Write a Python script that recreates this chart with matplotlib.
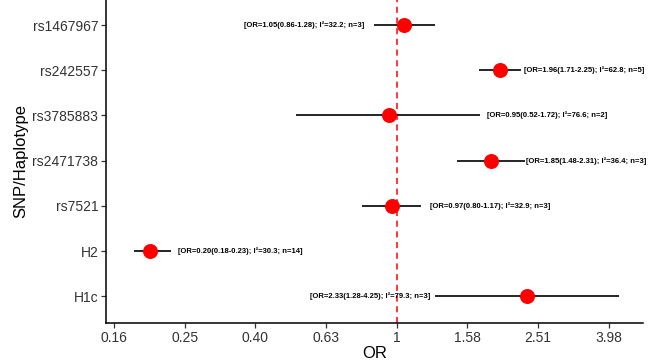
import numpy as np
import matplotlib
matplotlib.use("Agg")
import matplotlib.pyplot as plt
from matplotlib.ticker import FixedLocator, FixedFormatter, NullLocator

# data, top row first
snps = ['rs1467967', 'rs242557', 'rs3785883', 'rs2471738', 'rs7521', 'H2', 'H1c']
odds = [1.05, 1.96, 0.95, 1.85, 0.97, 0.20, 2.33]
ci_low = [0.86, 1.71, 0.52, 1.48, 0.80, 0.18, 1.28]
ci_high = [1.28, 2.25, 1.72, 2.31, 1.17, 0.23, 4.25]
i2 = [32.2, 62.8, 76.6, 36.4, 32.9, 30.3, 79.3]
n_studies = [3, 5, 2, 3, 3, 14, 3]

tick_vals = 10 ** np.arange(-0.8, 0.61, 0.2)
tick_labels = ['0.16', '0.25', '0.40', '0.63', '1', '1.58', '2.51', '3.98']

# which side the text label sits on, and its gap to the CI line (points)
label_side = ['left', 'right', 'right', 'right', 'right', 'right', 'left']
label_gap = [7, 2, 5, 0.7, 6.5, 5, 3]

plt.rcParams['font.family'] = ['Liberation Sans', 'DejaVu Sans']

fig = plt.figure(figsize=(6.5, 3.62), dpi=100)
ax = fig.add_axes([106 / 650, 1 - 323.3 / 362, (643 - 106) / 650, 325.3 / 362])

ypos = np.arange(len(snps), 0, -1)

ax.axvline(1, color='#FF0000', lw=1.1, ls=(0, (4, 3)), zorder=1)
ax.hlines(ypos, ci_low, ci_high, color='black', lw=1.2, zorder=2)
ax.plot(odds, ypos, 'o', color='#FF0000', ms=10.8, mec='none', zorder=3)

for y, o, lo, hi, i, n, side, gap in zip(ypos, odds, ci_low, ci_high, i2, n_studies,
                                         label_side, label_gap):
  txt = "[OR={:.2f}({:.2f}-{:.2f}); I\u00b2={:.1f}; n={}]".format(o, lo, hi, i, n)
  if side == 'right':
    ax.annotate(txt, xy=(hi, y), xytext=(gap, 0), textcoords='offset points',
                ha='left', va='center', fontsize=5.5, fontweight='bold')
  else:
    ax.annotate(txt, xy=(lo, y), xytext=(-gap, 0), textcoords='offset points',
                ha='right', va='center', fontsize=5.5, fontweight='bold')

ax.set_xscale('log')
ax.set_xlim(10 ** -0.8226, 10 ** 0.697)
ax.xaxis.set_major_locator(FixedLocator(tick_vals))
ax.xaxis.set_major_formatter(FixedFormatter(tick_labels))
ax.xaxis.set_minor_locator(NullLocator())
ax.set_ylim(0.4, 7.6)
ax.set_yticks(ypos)
ax.set_yticklabels(snps)

for s in ['top', 'right']:
  ax.spines[s].set_visible(False)
for s in ['left', 'bottom']:
  ax.spines[s].set_linewidth(1.1)
ax.tick_params(axis='both', length=3.5, width=0.9, color='#333333',
               labelcolor='#333333', labelsize=10, pad=2)

ax.set_xlabel('OR', fontsize=12, labelpad=1)
ax.set_ylabel('SNP/Haplotype', fontsize=12, labelpad=3)

fig.savefig('out.png', dpi=100)
